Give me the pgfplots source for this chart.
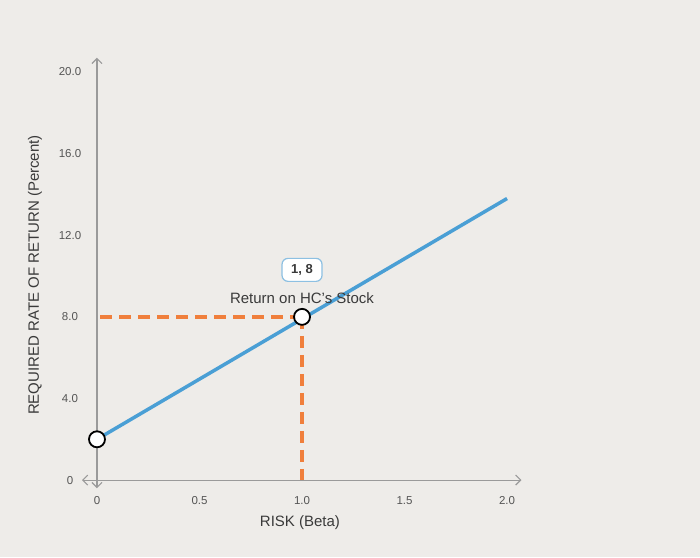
\documentclass[border=0pt]{standalone}
\usepackage{fontspec}
\setmainfont{Liberation Sans}
\usepackage{pgfplots}
\pgfplotsset{compat=1.18}
\usetikzlibrary{arrows.meta,backgrounds}
\definecolor{bg}{HTML}{EEECE9}
\definecolor{lineblue}{HTML}{4A9FD5}
\definecolor{dashorange}{HTML}{F07F3C}
\definecolor{axgray}{HTML}{9A9A9A}
\definecolor{txtgray}{HTML}{555555}
\definecolor{labgray}{HTML}{3A3A3A}
\definecolor{boxblue}{HTML}{8DC0E2}
\begin{document}
\begin{tikzpicture}
\begin{axis}[
  x=205pt, y=20.4pt,
  xmin=-0.073, xmax=2.07, ymin=-0.4, ymax=20.7,
  clip=false,
  axis lines=middle,
  axis line style={axgray, line width=1.1pt, {Straight Barb[length=5pt,width=10pt]}-{Straight Barb[length=5pt,width=10pt]}},
  xtick={0,0.5,1,1.5,2}, xticklabels={0,0.5,1.0,1.5,2.0},
  ytick={0,4,8,12,16,20}, yticklabels={0,4.0,8.0,12.0,16.0,20.0},
  major tick length=0pt,
  tick label style={font=\fontsize{11.5}{13}\selectfont, text=txtgray, anchor=center},
  xticklabel style={yshift=-20pt},
  yticklabel style={xshift=-27pt},
  xlabel={RISK (Beta)},
  ylabel={REQUIRED RATE OF RETURN (Percent)},
  every axis x label/.style={at={(axis cs:0.99,-2.06)}, anchor=center, font=\fontsize{15}{18}\selectfont, text=labgray},
  every axis y label/.style={at={(axis cs:-0.302,10.05)}, anchor=center, rotate=90, font=\fontsize{15}{18}\selectfont, text=labgray},
]
\coordinate (bl) at (axis cs:-0.473,-3.775);
\coordinate (tr) at (axis cs:2.941,23.53);
\addplot[lineblue, line width=3.5pt] coordinates {(0,2) (2,13.8)};
\addplot[dashorange, line width=3.5pt, dash pattern=on 12pt off 7pt] coordinates {(0.015,8) (1,8)};
\addplot[dashorange, line width=3.5pt, dash pattern=on 12pt off 7pt] coordinates {(1,8) (1,0)};
\addplot[only marks, mark=*, mark size=8pt, mark options={fill=white, draw=black, line width=1.8pt}] coordinates {(0,2) (1,8)};
\node[font=\fontsize{11.5}{13}\selectfont, text=txtgray, yshift=-20pt] at (axis cs:0,0) {0};
\node[font=\fontsize{11.5}{13}\selectfont, text=txtgray, xshift=-27pt] at (axis cs:0,0) {0};
\node[font=\fontsize{15}{18}\selectfont, text=labgray, yshift=19pt] at (axis cs:1,8) {Return on HC's Stock};
\node[draw=boxblue, rounded corners=6pt, fill=white, line width=1.2pt, font=\bfseries\fontsize{13}{15}\selectfont, text=labgray, minimum width=40pt, minimum height=23pt, yshift=47pt] at (axis cs:1,8) {1, 8};
\end{axis}
\begin{scope}[on background layer]
\fill[bg] (bl) rectangle (tr);
\end{scope}
\pgfresetboundingbox
\useasboundingbox (bl) rectangle (tr);
\end{tikzpicture}
\end{document}
